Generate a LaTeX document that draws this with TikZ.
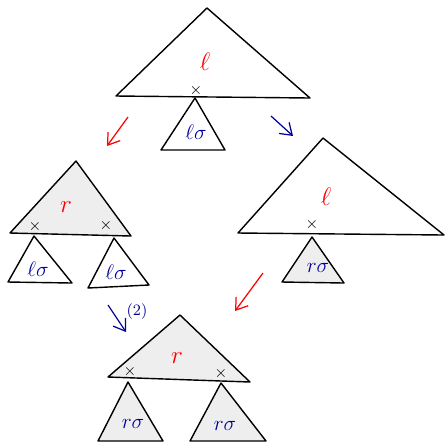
\documentclass[tikz,border=0pt]{standalone}
\usepackage{amsmath,amssymb}
\usetikzlibrary{arrows.meta}

\begin{document}
\begin{tikzpicture}[
    x=0.02cm, y=-0.02cm,
    tri/.style={draw, line width=0.8pt, line join=round},
    shade/.style={tri, fill=gray!13},
    big/.style={text=red, font=\Large},
    small/.style={text=blue!60!black, font=\large},
    cross/.style={inner sep=0pt, font=\small},
    arrow/.style={-{Straight Barb[length=2.2mm,width=3mm]}, line width=0.7pt}
]
\useasboundingbox (0,0) rectangle (445,441);

% top: l with lo below
\draw[tri] (207,8) -- (116,96) -- (310,98) -- cycle;
\draw[tri] (195,98) -- (161,150) -- (225,150) -- cycle;
\node[big] (topl) at (205,62) {$\ell$};
\node[cross] (topx) at (196,91) {$\times$};
\node[small] (toplo) at (196,132) {$\ell\sigma$};

% left: r with two lo
\draw[shade] (76,161) -- (10,233) -- (131,236) -- cycle;
\draw[tri] (34,236) -- (8,282) -- (72,283) -- cycle;
\draw[tri] (114,238) -- (88,288) -- (149,285) -- cycle;
\node[big] (leftr) at (66,207) {$r$};
\node[cross] (leftxa) at (35,227) {$\times$};
\node[cross] (leftxb) at (106,226) {$\times$};
\node[small] (leftloa) at (38,269) {$\ell\sigma$};
\node[small] (leftlob) at (116,272) {$\ell\sigma$};

% right: l with ro
\draw[tri] (323,138) -- (238,233) -- (444,235) -- cycle;
\draw[shade] (312,237) -- (282,282) -- (344,283) -- cycle;
\node[big] (rightl) at (326,197) {$\ell$};
\node[cross] (rightx) at (312,225) {$\times$};
\node[small] (rightro) at (318,268) {$r\sigma$};

% bottom: r with two ro
\draw[shade] (180,315) -- (108,377) -- (250,382) -- cycle;
\draw[shade] (128,382) -- (98,441) -- (163,441) -- cycle;
\draw[shade] (221,383) -- (190,441) -- (266,441) -- cycle;
\node[big] (botr) at (177,358) {$r$};
\node[cross] (botxa) at (130,372) {$\times$};
\node[cross] (botxb) at (221,374) {$\times$};
\node[small] (botroa) at (133,424) {$r\sigma$};
\node[small] (botrob) at (225,426) {$r\sigma$};

% arrows
\coordinate (a1) at (128,117);
\coordinate (b1) at (107,146);
\coordinate (a2) at (271,116);
\coordinate (b2) at (293,136);
\coordinate (a3) at (108,305);
\coordinate (b3) at (126,332);
\coordinate (a4) at (263,273);
\coordinate (b4) at (235,311);
\draw[arrow, red] (a1) -- (b1);
\draw[arrow, blue!60!black] (a2) -- (b2);
\draw[arrow, blue!60!black] (a3) -- (b3);
\draw[arrow, red] (a4) -- (b4);
\node[small, text=blue!60!black, font=\small] (two) at (137,312) {(2)};
\end{tikzpicture}
\end{document}
